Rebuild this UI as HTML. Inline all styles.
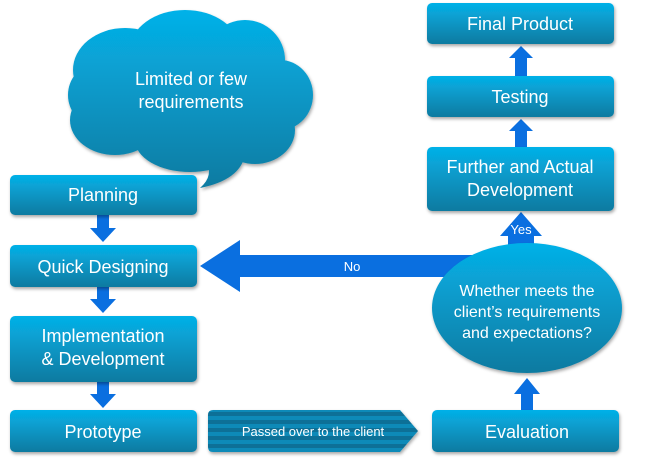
<!DOCTYPE html>
<html><head><style>
html,body{margin:0;padding:0;background:#fff;width:650px;height:472px;overflow:hidden}
svg text{font-family:"Liberation Sans",sans-serif;fill:#fff}
</style></head><body>
<svg width="650" height="472" viewBox="0 0 650 472" xmlns="http://www.w3.org/2000/svg">
<defs>
<linearGradient id="g" x1="0" y1="0" x2="0" y2="1">
<stop offset="0" stop-color="#05b1e8"/><stop offset="1" stop-color="#0d7aa0"/>
</linearGradient>
<linearGradient id="gc" gradientUnits="userSpaceOnUse" x1="0" y1="12" x2="0" y2="190">
<stop offset="0" stop-color="#05b1e8"/><stop offset="1" stop-color="#0d7aa0"/>
</linearGradient>
<linearGradient id="ge" gradientUnits="userSpaceOnUse" x1="0" y1="243" x2="0" y2="373">
<stop offset="0" stop-color="#05b1e8"/><stop offset="1" stop-color="#0d7aa0"/>
</linearGradient>
<pattern id="st" width="10" height="8" patternUnits="userSpaceOnUse">
<rect width="10" height="8" fill="#0b8ab8"/><rect y="4" width="10" height="4" fill="#0e7097"/>
</pattern>
<filter id="sh" x="-10%" y="-10%" width="130%" height="140%"><feDropShadow dx="1" dy="2" stdDeviation="1.5" flood-opacity="0.35"/></filter>
</defs>

<!-- cloud -->
<g fill="url(#gc)" filter="url(#sh)">
<ellipse cx="125" cy="70" rx="52" ry="42"/>
<ellipse cx="185" cy="50" rx="55" ry="40"/>
<ellipse cx="245" cy="60" rx="40" ry="40"/>
<ellipse cx="280" cy="95" rx="33" ry="35"/>
<ellipse cx="255" cy="130" rx="40" ry="34"/>
<ellipse cx="190" cy="140" rx="55" ry="32"/>
<ellipse cx="115" cy="120" rx="45" ry="35"/>
<ellipse cx="95" cy="95" rx="27" ry="30"/>
<ellipse cx="190" cy="95" rx="90" ry="55"/>
<path d="M205 160 Q215 175 200 188 Q240 180 245 155 Z"/>
</g>
<text x="191" y="85" font-size="18" text-anchor="middle">Limited or few</text>
<text x="191" y="108" font-size="18" text-anchor="middle">requirements</text>

<!-- down arrows left -->
<g fill="#0a6fe0">
<rect x="97" y="214" width="12" height="16"/><polygon points="90,228 116,228 103,242"/>
<rect x="97" y="286" width="12" height="15"/><polygon points="90,299 116,299 103,313"/>
<rect x="97" y="381" width="12" height="15"/><polygon points="90,394 116,394 103,408"/>
<!-- up arrows right -->
<rect x="515" y="56" width="12" height="20"/><polygon points="509,58 533,58 521,46"/>
<rect x="515" y="129" width="12" height="18"/><polygon points="509,131 533,131 521,119"/>
<rect x="521" y="392" width="12" height="18"/><polygon points="514,394 540,394 527,378"/>
<!-- No arrow -->
<rect x="238" y="255" width="240" height="22"/><polygon points="240,240 240,292 200,266"/>
<!-- Yes arrow -->
<rect x="508" y="230" width="26" height="18"/><polygon points="500,236 542,236 521,212"/>
</g>
<text x="352" y="271" font-size="13" text-anchor="middle">No</text>

<!-- ellipse -->
<ellipse cx="527" cy="308" rx="95" ry="65" fill="url(#ge)" filter="url(#sh)"/>
<text x="521" y="234" font-size="13" text-anchor="middle">Yes</text>
<text x="527" y="296" font-size="16" text-anchor="middle">Whether meets the</text>
<text x="527" y="317" font-size="16" text-anchor="middle">client’s requirements</text>
<text x="527" y="338" font-size="16" text-anchor="middle">and expectations?</text>

<!-- boxes -->
<g fill="url(#g)" filter="url(#sh)">
<rect x="10" y="175" width="187" height="40" rx="5"/>
<rect x="10" y="245" width="187" height="42" rx="5"/>
<rect x="10" y="316" width="187" height="66" rx="5"/>
<rect x="10" y="410" width="187" height="42" rx="5"/>
<rect x="427" y="3" width="187" height="41" rx="5"/>
<rect x="427" y="76" width="187" height="41" rx="5"/>
<rect x="427" y="147" width="187" height="64" rx="5"/>
<rect x="432" y="410" width="187" height="42" rx="5"/>
</g>
<path d="M213 410 H400 L418 431 L400 452 H213 Q208 452 208 447 V415 Q208 410 213 410 Z" fill="url(#st)" filter="url(#sh)"/>
<text x="313" y="436" font-size="13" text-anchor="middle">Passed over to the client</text>

<g font-size="18" text-anchor="middle">
<text x="103" y="201">Planning</text>
<text x="103" y="273">Quick Designing</text>
<text x="103" y="342">Implementation</text>
<text x="103" y="365">&amp; Development</text>
<text x="103" y="438">Prototype</text>
<text x="520" y="30">Final Product</text>
<text x="520" y="103">Testing</text>
<text x="520" y="173">Further and Actual</text>
<text x="520" y="196">Development</text>
<text x="527" y="438">Evaluation</text>
</g>
</svg>
</body></html>
